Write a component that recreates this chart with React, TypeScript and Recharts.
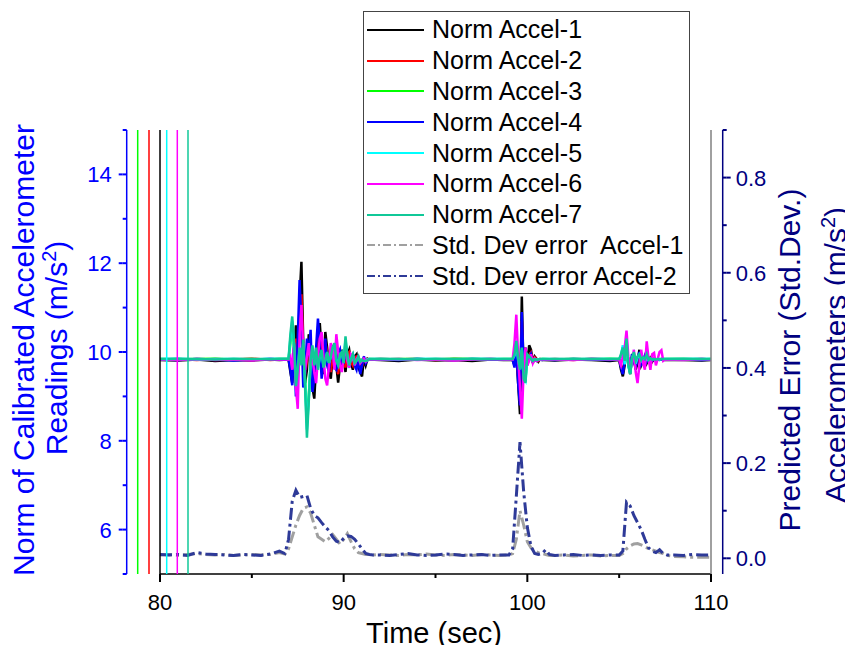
import React from 'react';
import { ComposedChart, Line, XAxis, YAxis, Legend } from 'recharts';

const FONT = '"Liberation Sans", Arial, Helvetica, sans-serif';

// sample times (s): quiet stretches every second, disturbances every 0.1 s
const time = [
  80, 81, 82, 83, 84, 85, 86, 86.5,
  87.0, 87.1, 87.2, 87.3, 87.4, 87.5, 87.6, 87.7, 87.8,
  87.9, 88.0, 88.1, 88.2, 88.3, 88.4, 88.5, 88.6, 88.7,
  88.8, 88.9, 89.0, 89.1, 89.2, 89.3, 89.4, 89.5, 89.6,
  89.7, 89.8, 89.9, 90.0, 90.1, 90.2, 90.3, 90.4, 90.5,
  90.6, 90.7, 90.8, 90.9, 91.0, 91.1, 91.2, 91.3, 91.4,
  92, 93, 94, 95, 96, 97, 98, 98.7,
  99.2, 99.3, 99.4, 99.5, 99.6, 99.7, 99.8, 99.9, 100.0,
  100.1, 100.2, 100.3, 100.4, 100.5, 100.6, 100.7, 100.8, 100.9,
  101.5, 102.5, 103.5, 104.5,
  105.0, 105.1, 105.2, 105.3, 105.4, 105.5, 105.6, 105.7, 105.8,
  105.9, 106.0, 106.1, 106.2, 106.3, 106.4, 106.5, 106.6, 106.7,
  106.8, 106.9, 107.0, 107.1, 107.2, 107.3, 107.4, 107.5,
  108.5, 109.5, 110,
];

const accel1 = [
  9.82, 9.81, 9.83, 9.80, 9.82, 9.81, 9.83, 9.82,
  9.83, 9.55, 9.30, 9.95, 10.60, 9.40, 11.20, 12.03, 10.20,
  9.30, 9.60, 10.40, 10.10, 9.20, 8.95, 9.70, 10.30, 10.65,
  10.00, 9.50, 10.45, 10.10, 9.60, 9.40, 9.90, 10.20, 9.70,
  9.31, 9.70, 10.05, 9.85, 9.55, 9.95, 10.05, 9.75, 9.60,
  9.90, 9.95, 9.65, 9.55, 9.45, 9.85, 9.70, 9.85, 9.83,
  9.82, 9.80, 9.83, 9.81, 9.82, 9.80, 9.83, 9.82,
  9.82, 9.70, 9.95, 9.30, 8.60, 11.25, 9.40, 10.10, 9.70,
  10.15, 10.05, 9.75, 9.90, 9.85, 9.78, 9.84, 9.82, 9.82,
  9.81, 9.83, 9.82, 9.80,
  9.82, 9.60, 9.45, 9.70, 10.10, 9.80, 9.50, 9.90, 9.85,
  9.60, 9.75, 10.05, 9.70, 9.80, 9.90, 9.75, 9.85, 9.88,
  9.78, 9.84, 9.82, 9.83, 9.82, 9.84, 9.83, 9.82,
  9.82, 9.81, 9.82,
];

const accel2 = [
  9.83, 9.84, 9.82, 9.84, 9.83, 9.85, 9.82, 9.83,
  9.83, 9.70, 9.50, 10.10, 10.30, 9.60, 10.80, 11.30, 10.00,
  9.50, 9.80, 10.20, 9.95, 9.40, 9.30, 9.75, 10.20, 10.40,
  9.95, 9.60, 10.20, 10.00, 9.70, 9.55, 9.90, 10.10, 9.75,
  9.50, 9.80, 10.00, 9.85, 9.65, 9.95, 10.00, 9.78, 9.70,
  9.88, 9.90, 9.75, 9.70, 9.68, 9.85, 9.78, 9.84, 9.83,
  9.84, 9.83, 9.85, 9.82, 9.84, 9.83, 9.84, 9.83,
  9.83, 9.75, 9.90, 9.45, 8.90, 10.70, 9.55, 10.00, 9.75,
  9.90, 9.98, 9.80, 9.88, 9.84, 9.80, 9.83, 9.83, 9.83,
  9.84, 9.82, 9.85, 9.83,
  9.83, 9.70, 9.55, 9.80, 10.00, 9.82, 9.60, 9.88, 9.84,
  9.70, 9.80, 9.98, 9.75, 9.82, 9.88, 9.78, 9.84, 9.86,
  9.80, 9.84, 9.82, 9.83, 9.83, 9.83, 9.83, 9.83,
  9.83, 9.84, 9.83,
];

const accel3 = [
  9.84, 9.83, 9.84, 9.85, 9.83, 9.84, 9.83, 9.84,
  9.84, 10.20, 10.60, 10.10, 9.40, 9.50, 10.00, 9.80, 10.10,
  9.40, 8.40, 9.00, 9.70, 10.05, 9.75, 10.00, 9.70, 9.85,
  10.00, 9.70, 9.85, 9.95, 9.78, 9.88, 10.05, 10.10, 9.85,
  9.75, 9.92, 9.96, 9.80, 10.20, 9.90, 9.75, 9.86, 9.92,
  9.78, 9.82, 9.88, 9.80, 9.83, 9.82, 9.82, 9.83, 9.84,
  9.83, 9.84, 9.84, 9.83, 9.85, 9.84, 9.83, 9.84,
  9.84, 9.90, 10.15, 9.80, 9.65, 10.00, 9.45, 9.40, 9.90,
  9.88, 9.85, 9.80, 9.84, 9.82, 9.83, 9.83, 9.84, 9.84,
  9.83, 9.84, 9.83, 9.85,
  9.84, 9.90, 10.10, 9.75, 10.20, 9.70, 9.55, 9.85, 9.95,
  9.75, 9.88, 9.92, 9.80, 9.86, 9.84, 9.82, 9.84, 9.83,
  9.83, 9.84, 9.83, 9.84, 9.83, 9.84, 9.84, 9.84,
  9.84, 9.83, 9.84,
];

const accel4 = [
  9.83, 9.82, 9.84, 9.83, 9.81, 9.83, 9.84, 9.83,
  9.83, 9.60, 9.25, 10.20, 9.00, 10.30, 11.62, 10.60, 9.20,
  9.50, 10.30, 9.90, 10.50, 9.10, 9.40, 10.10, 10.75, 10.20,
  9.40, 9.80, 10.30, 9.70, 9.55, 10.00, 10.15, 9.65, 9.60,
  9.95, 10.05, 9.70, 9.75, 10.00, 9.85, 9.65, 9.90, 9.95,
  9.70, 9.60, 9.85, 9.50, 9.70, 9.90, 9.75, 9.82, 9.83,
  9.83, 9.82, 9.84, 9.83, 9.82, 9.84, 9.83, 9.83,
  9.83, 9.65, 10.10, 9.30, 8.80, 10.90, 9.60, 9.95, 9.75,
  9.85, 9.95, 9.78, 9.84, 9.80, 9.82, 9.83, 9.82, 9.83,
  9.82, 9.84, 9.83, 9.82,
  9.83, 9.65, 9.50, 9.80, 10.15, 9.75, 9.55, 9.95, 9.80,
  9.65, 9.85, 10.00, 9.72, 9.80, 9.92, 9.78, 9.86, 9.84,
  9.80, 9.84, 9.82, 9.83, 9.83, 9.83, 9.83, 9.83,
  9.83, 9.82, 9.83,
];

const accel5 = [
  9.84, 9.85, 9.83, 9.84, 9.84, 9.83, 9.85, 9.84,
  9.84, 10.30, 10.70, 10.15, 9.30, 9.55, 10.05, 9.75, 10.20,
  9.30, 8.25, 8.95, 9.75, 10.10, 9.72, 10.05, 9.65, 9.88,
  10.02, 9.68, 9.82, 9.98, 9.76, 9.90, 10.08, 10.15, 9.82,
  9.72, 9.94, 9.98, 9.78, 10.28, 9.90, 9.72, 9.85, 9.94,
  9.76, 9.81, 9.89, 9.79, 9.82, 9.81, 9.82, 9.83, 9.84,
  9.84, 9.83, 9.85, 9.84, 9.83, 9.84, 9.85, 9.84,
  9.84, 9.92, 10.20, 9.82, 9.62, 10.05, 9.42, 9.35, 9.92,
  9.90, 9.84, 9.80, 9.84, 9.82, 9.83, 9.83, 9.84, 9.84,
  9.84, 9.83, 9.85, 9.84,
  9.84, 9.92, 10.15, 9.72, 10.25, 9.68, 9.52, 9.86, 9.97,
  9.74, 9.88, 9.94, 9.80, 9.86, 9.84, 9.82, 9.84, 9.83,
  9.83, 9.84, 9.83, 9.84, 9.83, 9.84, 9.84, 9.84,
  9.84, 9.85, 9.84,
];

const accel6 = [
  9.83, 9.82, 9.84, 9.82, 9.83, 9.81, 9.84, 9.83,
  9.83, 9.90, 9.60, 10.10, 9.20, 8.72, 10.40, 11.06, 10.00,
  9.60, 9.90, 10.20, 9.70, 9.85, 9.55, 9.30, 9.90, 10.30,
  10.45, 9.90, 9.40, 9.25, 9.70, 10.20, 10.05, 9.60, 10.40,
  10.00, 9.70, 9.55, 9.90, 10.10, 9.80, 9.65, 9.95, 9.90,
  9.70, 9.85, 9.90, 9.75, 9.80, 9.85, 9.78, 9.82, 9.83,
  9.83, 9.84, 9.82, 9.83, 9.81, 9.83, 9.84, 9.83,
  9.83, 10.20, 10.84, 9.90, 9.20, 8.50, 9.60, 10.10, 9.70,
  9.80, 9.95, 9.75, 9.85, 9.80, 9.82, 9.83, 9.83, 9.83,
  9.83, 9.82, 9.84, 9.83,
  9.83, 9.70, 9.90, 10.10, 10.48, 9.90, 9.60, 9.75, 10.05,
  9.55, 9.30, 9.70, 10.05, 9.75, 9.60, 10.24, 9.85, 9.60,
  9.95, 9.98, 9.70, 9.85, 10.00, 10.04, 9.80, 9.83,
  9.82, 9.84, 9.83,
];

const accel7 = [
  9.84, 9.85, 9.84, 9.83, 9.85, 9.84, 9.84, 9.85,
  9.85, 10.40, 10.80, 10.20, 9.23, 9.60, 10.10, 9.70, 10.28,
  9.20, 8.07, 8.90, 9.80, 10.15, 9.70, 10.10, 9.60, 9.90,
  10.05, 9.65, 9.80, 10.00, 9.75, 9.90, 10.10, 10.20, 9.80,
  9.70, 9.95, 10.00, 9.75, 10.35, 9.90, 9.70, 9.85, 9.95,
  9.75, 9.80, 9.90, 9.78, 9.82, 9.80, 9.80, 9.81, 9.84,
  9.85, 9.84, 9.83, 9.85, 9.84, 9.85, 9.84, 9.84,
  9.84, 9.95, 10.25, 9.85, 9.60, 10.10, 9.40, 9.31, 9.95,
  9.90, 9.85, 9.80, 9.84, 9.82, 9.83, 9.84, 9.84, 9.84,
  9.84, 9.85, 9.84, 9.84,
  9.84, 9.95, 10.10, 9.80, 10.30, 9.70, 9.50, 9.85, 10.00,
  9.80, 9.90, 9.95, 9.82, 9.88, 9.84, 9.95, 9.82, 9.86,
  9.83, 9.84, 9.83, 9.84, 9.84, 9.84, 9.84, 9.84,
  9.85, 9.84, 9.84,
];

// std. dev. estimates use their own, coarser time base
const errTime = [
  80, 80.5, 81, 81.5, 82, 82.5, 83, 83.5, 84, 84.5, 85, 85.5, 86, 86.5, 86.8,
  87.0, 87.2, 87.4, 87.6, 87.8, 88.0, 88.2, 88.4, 88.6, 88.8, 89.0, 89.2,
  89.4, 89.6, 89.8, 90.0, 90.2, 90.4, 90.6, 90.8, 91.0, 91.2, 91.4, 91.6,
  92, 92.5, 93, 93.5, 94, 94.5, 95, 95.5, 96, 96.5, 97, 97.5, 98, 98.5,
  99.0, 99.2, 99.4, 99.6, 99.8, 100.0, 100.2, 100.4, 100.6, 100.8, 101.0, 101.2,
  101.5, 102, 102.5, 103, 103.5, 104, 104.5,
  105.0, 105.2, 105.4, 105.6, 105.8, 106.0, 106.2, 106.4, 106.6, 106.8, 107.0, 107.2, 107.4, 107.6,
  108, 108.5, 109, 109.5, 110,
];

const errAccel1 = [
  0.007, 0.008, 0.006, 0.008, 0.010, 0.008, 0.007, 0.008, 0.006, 0.007, 0.008, 0.007, 0.008, 0.012, 0.009,
  0.020, 0.045, 0.070, 0.090, 0.105, 0.108, 0.095, 0.070, 0.045, 0.040, 0.035, 0.042,
  0.050, 0.040, 0.030, 0.040, 0.052, 0.035, 0.020, 0.012, 0.010, 0.008, 0.008, 0.007,
  0.008, 0.007, 0.006, 0.008, 0.007, 0.009, 0.007, 0.006, 0.008, 0.007, 0.006, 0.008, 0.007, 0.006,
  0.007, 0.010, 0.040, 0.100, 0.070, 0.035, 0.022, 0.015, 0.012, 0.010, 0.008, 0.006,
  0.006, 0.007, 0.005, 0.006, 0.007, 0.005, 0.006,
  0.006, 0.010, 0.020, 0.026, 0.030, 0.031, 0.028, 0.025, 0.020, 0.018, 0.015, 0.012, 0.010, 0.006,
  0.004, 0.003, 0.002, 0.002, 0.002,
];

const errAccel2 = [
  0.008, 0.007, 0.008, 0.006, 0.012, 0.009, 0.008, 0.007, 0.006, 0.008, 0.007, 0.006, 0.009, 0.015, 0.010,
  0.040, 0.120, 0.143, 0.128, 0.130, 0.132, 0.105, 0.090, 0.085, 0.075, 0.066, 0.058,
  0.045, 0.036, 0.033, 0.042, 0.047, 0.046, 0.040, 0.030, 0.020, 0.010, 0.008, 0.007,
  0.007, 0.006, 0.008, 0.010, 0.007, 0.006, 0.007, 0.009, 0.008, 0.006, 0.007, 0.008, 0.006, 0.007,
  0.007, 0.020, 0.130, 0.244, 0.140, 0.065, 0.025, 0.010, 0.008, 0.010, 0.018, 0.008,
  0.006, 0.007, 0.008, 0.006, 0.007, 0.006, 0.007,
  0.007, 0.015, 0.118, 0.110, 0.090, 0.075, 0.060, 0.040, 0.022, 0.015, 0.012, 0.018, 0.010, 0.007,
  0.007, 0.006, 0.008, 0.007, 0.007,
];

const accelNames = [
  'Norm Accel-1', 'Norm Accel-2', 'Norm Accel-3', 'Norm Accel-4',
  'Norm Accel-5', 'Norm Accel-6', 'Norm Accel-7',
];
const errNames = ['Std. Dev error  Accel-1', 'Std. Dev error Accel-2'];

const timeTicks = [80, 85, 90, 95, 100, 105, 110];
const accTicks = [5, 6, 7, 8, 9, 10, 11, 12, 13, 14, 15];
const errTicks = [0, 0.1, 0.2, 0.3, 0.4, 0.5, 0.6, 0.7, 0.8, 0.9];

const accelColors = ['#000000', '#ff0000', '#00ff00', '#0000ff', '#00ffff', '#ff00ff', '#10c898'];
const errColors = ['#a0a0a0', '#2e3a98'];
const DASH_DOT = '12 4 3 4';

const accelKeys = ['a1', 'a2', 'a3', 'a4', 'a5', 'a6', 'a7'];
const accelSeries = [accel1, accel2, accel3, accel4, accel5, accel6, accel7];

const accelRows = time.map((t, i) => {
  const row: Record<string, number> = { t };
  accelKeys.forEach((k, j) => { row[k] = accelSeries[j][i]; });
  return row;
});
const errRows = errTime.map((t, i) => ({ t, e1: errAccel1[i], e2: errAccel2[i] }));

const MINOR = 4; // built-in tick length; majors get this much again

type TickSpec = {
  color: string;
  dir: number; // +1 ticks point right, -1 left
  major: (v: number) => boolean;
  text?: (v: number) => string;
  gap?: number;
};

// recharts draws the short tick; majors are extended and labelled here
const yTick = ({ color, dir, major, text, gap = 15 }: TickSpec) => (props: any) => {
  const x = Number(props.x);
  const y = Number(props.y);
  const v: number = props.payload.value;
  const big = major(v);
  return (
    <g>
      {big ? <line x1={x} y1={y} x2={x + dir * MINOR} y2={y} stroke={color} strokeWidth={2} /> : null}
      {big && text ? (
        <text x={x + dir * (gap - MINOR)} y={y} dy="0.36em" textAnchor={dir < 0 ? 'end' : 'start'}
          fill={color} fontSize={22} fontFamily={FONT}>{text(v)}</text>
      ) : null}
    </g>
  );
};

const xTick = (props: any) => {
  const x = Number(props.x);
  const y = Number(props.y);
  const v: number = props.payload.value;
  const big = v % 10 === 0;
  return (
    <g>
      {big ? <line x1={x} y1={y} x2={x} y2={y + MINOR} stroke="#000" strokeWidth={2} /> : null}
      {big ? (
        <text x={x} y={y + 32} textAnchor="middle" fill="#000" fontSize={22} fontFamily={FONT}>{v}</text>
      ) : null}
    </g>
  );
};

const evenMajor = (v: number) => v % 2 === 0;
const tenthMajor = (v: number) => Math.round(v * 10) % 2 === 0;

const accTitle = (props: any) => {
  const vb = props.viewBox;
  const cy = vb.y + vb.height / 2;
  const x1 = vb.x + 33.5;
  const x2 = vb.x + 66.7;
  return (
    <g fill="#0000ff" fontSize={30} fontFamily={FONT}>
      <text x={x1} y={cy - 2} textAnchor="middle" transform={`rotate(-90, ${x1}, ${cy - 2})`}>
        Norm of Calibrated Accelerometer
      </text>
      <text x={x2} y={cy - 4} textAnchor="middle" transform={`rotate(-90, ${x2}, ${cy - 4})`}>
        Readings (m/s<tspan dy={-11} fontSize={20}>2</tspan><tspan dy={11}>)</tspan>
      </text>
    </g>
  );
};

const errTitle = (props: any) => {
  const vb = props.viewBox;
  const cy = vb.y + vb.height / 2;
  const x1 = vb.x + 77.3;
  const x2 = vb.x + 123.3;
  return (
    <g fill="#000080" fontSize={30} fontFamily={FONT}>
      <text x={x1} y={cy + 8} textAnchor="middle" transform={`rotate(-90, ${x1}, ${cy + 8})`}>
        Predicted Error (Std.Dev.)
      </text>
      <text x={x2} y={cy + 3} textAnchor="middle" transform={`rotate(-90, ${x2}, ${cy + 3})`}>
        Accelerometers (m/s<tspan dy={-11} fontSize={20}>2</tspan><tspan dy={11}>)</tspan>
      </text>
    </g>
  );
};

const timeTitle = (props: any) => {
  const vb = props.viewBox;
  return (
    <text x={vb.x + vb.width / 2 - 1.5} y={vb.y + 69} textAnchor="middle"
      fill="#000" fontSize={29} fontFamily={FONT}>Time (sec)</text>
  );
};

const legendRows = [
  ...accelNames.map((name, i) => ({ name, color: accelColors[i], dash: undefined as string | undefined })),
  ...errNames.map((name, i) => ({ name, color: errColors[i], dash: '8 3 2 3' })),
];

const LegendBox = () => (
  <div style={{
    border: '1px solid #444', background: '#fff', width: 325, padding: '2.5px 0 1.3px 0',
    fontFamily: FONT, fontSize: 25, color: '#000',
  }}>
    {legendRows.map((r) => (
      <div key={r.name} style={{ display: 'flex', alignItems: 'center', height: 30.8 }}>
        <svg width={57} height={10} style={{ marginLeft: 3, marginRight: 8, flex: 'none' }}>
          <line x1={0} y1={5} x2={57} y2={5} stroke={r.color} strokeWidth={2} strokeDasharray={r.dash} />
        </svg>
        <span style={{ whiteSpace: 'pre', lineHeight: 1 }}>{r.name}</span>
      </div>
    ))}
  </div>
);

// axes of one orientation are stacked in id order, so ids carry a position prefix
const accAxis = (id: string, color: string, width: number, mirror: boolean, extra: any = {}) => (
  <YAxis
    key={id}
    yAxisId={id}
    orientation="left"
    mirror={mirror}
    width={width}
    domain={[5, 15]}
    ticks={accTicks}
    interval={0}
    tickSize={MINOR}
    tickMargin={0}
    tickLine={{ stroke: color, strokeWidth: 2 }}
    axisLine={{ stroke: color, strokeWidth: 1.5 }}
    tick={yTick({ color, dir: mirror ? 1 : -1, major: evenMajor })}
    {...extra}
  />
);

export default function App() {
  // the svg spans the whole window, so undo the body margin
  return (
    <div style={{ width: 853, height: 653, margin: -8, fontFamily: FONT }}>
      <ComposedChart width={853} height={653} margin={{ top: 130, right: 0, bottom: 0, left: 0 }}>
        <XAxis
          type="number"
          dataKey="t"
          domain={[80, 110]}
          ticks={timeTicks}
          interval={0}
          height={79}
          tickSize={MINOR}
          tickMargin={0}
          tickLine={{ stroke: '#000', strokeWidth: 2 }}
          axisLine={{ stroke: '#000', strokeWidth: 1.5 }}
          tick={xTick}
          label={timeTitle}
        />

        {/* outward axes, stacked leftwards from the plot edge */}
        {accAxis('L1k', '#000000', 11, false)}
        {accAxis('L2r', '#ff0000', 11.3, false)}
        {accAxis('L3g', '#00ff00', 11, false)}
        {accAxis('L4b', '#0000ff', 126.7, false, {
          tick: yTick({ color: '#0000ff', dir: -1, major: evenMajor, text: (v) => String(v) }),
          label: accTitle,
        })}

        {/* inward axes drawn inside the plot */}
        <YAxis yAxisId="M0" orientation="left" mirror width={6.7} domain={[5, 15]}
          axisLine={false} tickLine={false} tick={false} />
        {accAxis('M1c', '#00ffff', 10.6, true)}
        {accAxis('M2m', '#ff00ff', 10.7, true)}
        {accAxis('M3t', '#10c898', 10, true)}

        {/* right side: plain frame, then the error scale */}
        <YAxis
          yAxisId="R1f"
          orientation="right"
          width={11.7}
          domain={[5, 15]}
          ticks={accTicks}
          interval={0}
          tickSize={MINOR}
          tickMargin={0}
          tickLine={{ stroke: '#808080', strokeWidth: 2 }}
          axisLine={{ stroke: '#808080', strokeWidth: 1.5 }}
          tick={yTick({ color: '#808080', dir: 1, major: evenMajor })}
        />
        <YAxis
          yAxisId="R2e"
          orientation="right"
          width={130.3}
          domain={[-0.033, 0.9]}
          ticks={errTicks}
          interval={0}
          tickSize={MINOR}
          tickMargin={0}
          tickLine={{ stroke: '#000080', strokeWidth: 2 }}
          axisLine={{ stroke: '#000080', strokeWidth: 1.5 }}
          tick={yTick({ color: '#000080', dir: 1, major: tenthMajor, text: (v) => v.toFixed(1), gap: 13 })}
          label={errTitle}
        />

        <Legend
          content={LegendBox}
          layout="vertical"
          align="center"
          verticalAlign="middle"
          wrapperStyle={{ left: 363, top: 11 }}
        />

        {accelKeys.map((k, i) => (
          <Line
            key={k}
            yAxisId="L4b"
            data={accelRows}
            dataKey={k}
            name={accelNames[i]}
            type="linear"
            stroke={accelColors[i]}
            strokeWidth={2.5}
            dot={false}
            activeDot={false}
            isAnimationActive={false}
          />
        ))}
        <Line yAxisId="R2e" data={errRows} dataKey="e1" name={errNames[0]} type="linear"
          stroke={errColors[0]} strokeWidth={3} strokeDasharray={DASH_DOT}
          dot={false} activeDot={false} isAnimationActive={false} />
        <Line yAxisId="R2e" data={errRows} dataKey="e2" name={errNames[1]} type="linear"
          stroke={errColors[1]} strokeWidth={3} strokeDasharray={DASH_DOT}
          dot={false} activeDot={false} isAnimationActive={false} />
      </ComposedChart>
    </div>
  );
}
